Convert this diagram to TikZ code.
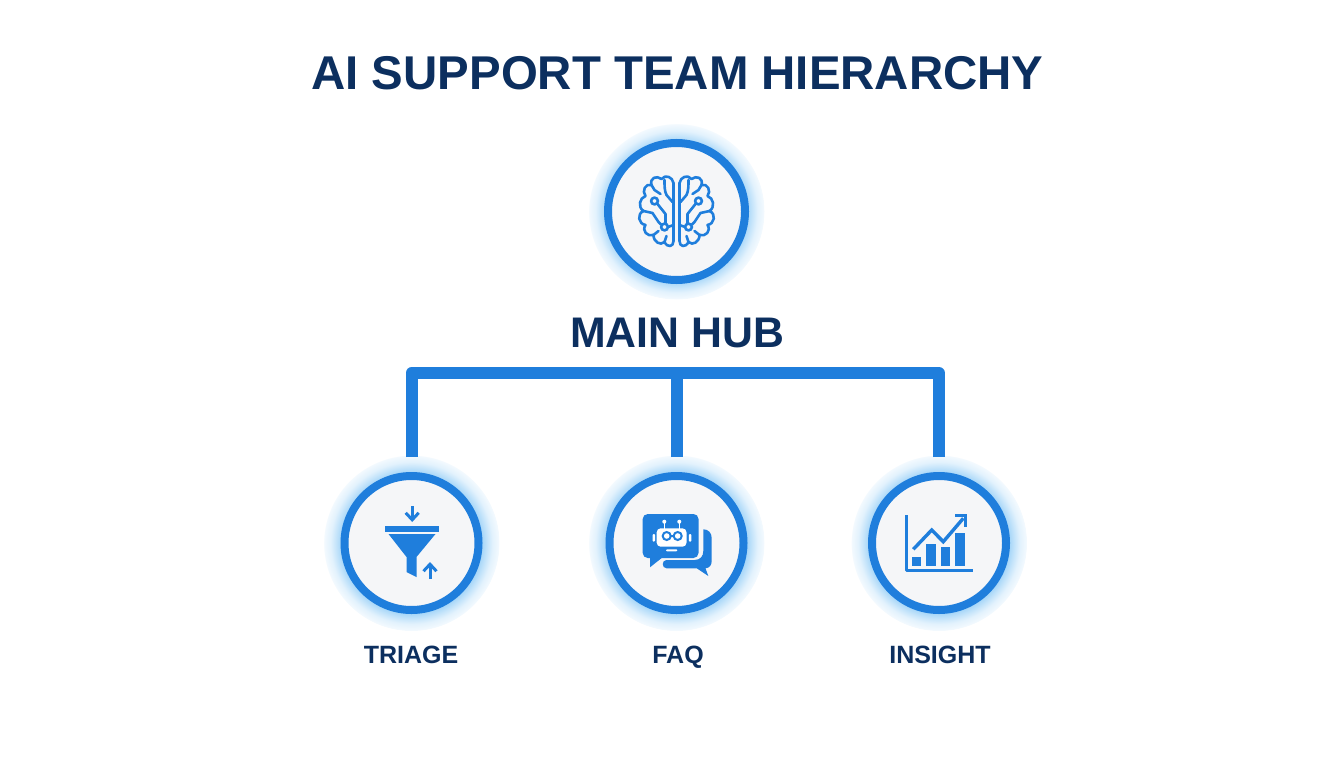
\documentclass[tikz,border=0pt]{standalone}
\usepackage{fontspec}
\setmainfont{Liberation Sans}
\usetikzlibrary{arrows.meta}
\definecolor{hubBlue}{HTML}{1F7EDC}
\definecolor{inkNavy}{HTML}{0C2F5F}
\definecolor{discGrey}{HTML}{F5F6F8}
\definecolor{haloBlue}{HTML}{A6D6F8}
\pgfdeclareradialshading{glowShade}{\pgfpoint{0bp}{0bp}}{%
  color(0bp)=(haloBlue);
  color(20bp)=(haloBlue);
  color(21.5bp)=(haloBlue!65!white);
  color(23bp)=(haloBlue!32!white);
  color(24.8bp)=(haloBlue!14!white);
  color(25bp)=(white);
  color(50bp)=(white)}
\tikzset{
  glow/.style={circle,minimum size=176pt,inner sep=0pt,shading=glowShade},
  ring/.style={circle,draw=hubBlue,line width=8pt,fill=discGrey,minimum size=134pt,inner sep=0pt},
  wire/.style={draw=hubBlue,line width=12pt,line join=round},
  tag/.style={text=inkNavy,font=\bfseries\fontsize{25}{25}\selectfont,inner sep=0pt,anchor=base},
  icon/.style={draw=hubBlue,line width=3pt,line join=round},
  iconThin/.style={draw=hubBlue,line width=2.6pt,line cap=round,line join=round},
  barb/.style={-{Straight Barb[length=7pt,width=13pt]}}
}
\newcommand{\brainHalf}{%
  \draw[iconThin] (-3,-28) -- (-3,30);
  \draw[iconThin] (-3,-28) .. controls (-4,-34) and (-11,-37) .. (-15,-32)
    .. controls (-20,-36) and (-27,-33) .. (-25,-26)
    .. controls (-31,-28) and (-35,-20) .. (-31,-15)
    .. controls (-37,-13) and (-39,-4) .. (-33,0)
    .. controls (-40,3) and (-38,13) .. (-31,14)
    .. controls (-35,20) and (-29,26) .. (-23,24)
    .. controls (-23,31) and (-16,35) .. (-12,31)
    .. controls (-9,37) and (-3,36) .. (-3,30);
  \draw[iconThin] (-12,-31) .. controls (-12,-25) and (-12,-20) .. (-10,-16) -- (-4,-9);
  \draw[iconThin] (-25,-26) -- (-22,-21) -- (-16,-17);
  \draw[iconThin] (-19,-7) -- (-11,3) -- (-11,12);
  \draw[iconThin] (-33,0) -- (-24,2) -- (-18,11) -- (-15.5,13.5);
  \draw[iconThin] (-8.5,16) -- (-3,14);
  \draw[iconThin] (-23,24) -- (-18,20);
  \draw[iconThin] (-12,31) -- (-10,25);
  \draw[iconThin,fill=discGrey] (-22,-10) circle (3.4);
  \draw[iconThin,fill=discGrey] (-12,16) circle (3.4);
}
\begin{document}
\begin{tikzpicture}[x=1pt,y=-1pt]
  \useasboundingbox (0,0) rectangle (1344,768);
  % halos first
  \node[glow] (hubGlow) at (676.5,211.5) {};
  \node[glow] (triageGlow) at (411.5,543) {};
  \node[glow] (faqGlow) at (676.5,543) {};
  \node[glow] (insightGlow) at (939,543) {};

  \node[ring,minimum size=137pt] (hub) at (hubGlow) {};
  \node[ring] (triage) at (triageGlow) {};
  \node[ring] (faq) at (faqGlow) {};
  \node[ring] (insight) at (insightGlow) {};

  \node[text=inkNavy,font=\bfseries\fontsize{47.4}{48}\selectfont,inner sep=0pt] (heading) at (677.5,73) {AI SUPPORT TEAM HIERARCHY};
  \node[text=inkNavy,font=\bfseries\fontsize{42.8}{43}\selectfont,inner sep=0pt] (hubLabel) at (677,333) {MAIN HUB};
  \node[tag] (triageLabel) at (411,663.5) {TRIAGE};
  \node[tag] (faqLabel) at (678,663.5) {FAQ};
  \node[tag] (insightLabel) at (940,663.5) {INSIGHT};

  % bus
  \coordinate (busMid) at (faq.north |- 0,373);
  \draw[wire,shorten <=15pt] (triage.north) |- (busMid);
  \draw[wire,shorten <=15pt] (insight.north) |- (busMid);
  \draw[wire,shorten <=15pt] (faq.north) -- (busMid);

  % brain
  \begin{scope}[shift={(676.5,211)}]
    \brainHalf
    \begin{scope}[xscale=-1]
      \brainHalf
    \end{scope}
  \end{scope}

  % funnel
  \begin{scope}[shift={(411.5,543)}]
    \fill[hubBlue] (-27,-17.5) rectangle (27,-11.5);
    \fill[hubBlue] (-23,-9) -- (24,-9) -- (5,14) -- (5,34) -- (-5,29) -- (-5,14) -- cycle;
    \draw[icon,barb] (0.7,-37) -- (0.7,-21);
    \draw[icon,barb] (18.5,36) -- (18.5,19);
  \end{scope}

  % chat bubbles and robot
  \begin{scope}[shift={(676.5,543)}]
    \fill[hubBlue,rounded corners=5pt] (-33.8,-29) rectangle (22,15);
    \fill[hubBlue] (-26.5,13) -- (-26.5,24.3) -- (-14.8,15) -- cycle;
    \fill[hubBlue] (26.8,-13.7) .. controls (32,-13.7) and (35.2,-10) .. (35.2,-5) -- (35.2,18)
      .. controls (35.2,22) and (33,25) .. (29,25.3) -- (31.8,33) -- (20.2,25.3) -- (-10,25.3)
      .. controls (-15,25.3) and (-15,17) .. (-10,17) -- (18,17)
      .. controls (24,17) and (26.8,13) .. (26.8,8) -- cycle;
    \fill[white,rounded corners=4pt] (-19.8,-14.7) rectangle (10,3.7);
    \draw[hubBlue,line width=2pt] (-9.8,-7) circle (4) (1.2,-7) circle (4) (-5.8,-7) -- (-2.8,-7);
    \fill[white,rounded corners=1pt] (-10.5,6.3) rectangle (0.8,8.3);
    \fill[white,rounded corners=1pt] (-24,-9) rectangle (-21.5,-1.3);
    \fill[white,rounded corners=1pt] (12.3,-9) rectangle (14.8,-1.3);
    \draw[white,line width=1.4pt] (-12.2,-21.3) -- (-12.2,-14) (2.8,-21.3) -- (2.8,-14);
    \fill[white] (-12.2,-21.3) circle (2) (2.8,-21.3) circle (2);
  \end{scope}

  % chart
  \begin{scope}[shift={(939,543)}]
    \draw[icon] (-32.3,-28) -- (-32.3,27.3) -- (34.3,27.3);
    \fill[hubBlue] (-27.3,13.7) rectangle (-18,23);
    \fill[hubBlue] (-13,1) rectangle (-3.3,23);
    \fill[hubBlue] (2,4.3) rectangle (11.3,23);
    \fill[hubBlue] (16.3,-10.3) rectangle (26,23);
    \draw[hubBlue,line width=3.4pt,line join=miter] (-25.7,6.3) -- (-7.3,-13) -- (4.3,-1.3) -- (24.3,-24.7);
    \draw[hubBlue,line width=3.4pt,line join=miter] (16,-27.3) -- (26.7,-27.3) -- (26.7,-16.3);
  \end{scope}
\end{tikzpicture}
\end{document}
